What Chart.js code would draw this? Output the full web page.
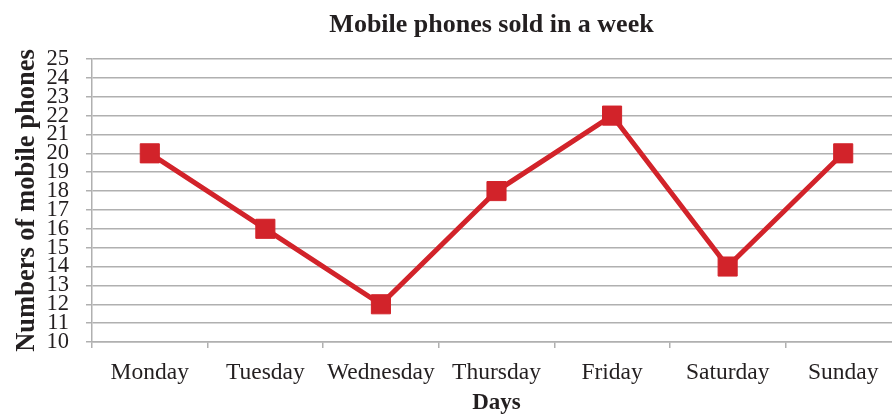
<!DOCTYPE html>
<html>
<head>
<meta charset="utf-8">
<script src="https://cdn.jsdelivr.net/npm/chart.js@4"></script>
<style>
  html, body { margin: 0; padding: 0; background: #fff; overflow: hidden; }
  #wrap { width: 901px; height: 415px; }
</style>
</head>
<body>
<div id="wrap"><canvas id="chart" width="901" height="415"></canvas></div>
<script>
const days = ["Monday", "Tuesday", "Wednesday", "Thursday", "Friday", "Saturday", "Sunday"]
const phonesSold = [20, 16, 12, 18, 22, 14, 20]
const yMin = 10
const yMax = 25

const serif = "'Liberation Serif', 'DejaVu Serif', serif"
const gridGray = "#b0b0b0"
const red = "#d2232a"
const ink = "#231f20"

// centre the title over the plot area, like the original
const titleOverPlot = {
  id: "titleOverPlot",
  afterLayout(chart) {
    const t = chart.titleBlock
    if (t) {
      t.left = chart.chartArea.left - 5
      t.right = chart.chartArea.right - 5
    }
  }
}

const ctx = document.getElementById("chart")

new Chart(ctx, {
  type: "line",
  data: {
    labels: days,
    datasets: [{
      label: "Mobile phones",
      data: phonesSold,
      borderColor: red,
      backgroundColor: red,
      borderWidth: 5,
      pointStyle: "rect",
      pointRadius: 13.5,
      pointHoverRadius: 13.5,
      pointBorderWidth: 1,
      tension: 0
    }]
  },
  options: {
    responsive: false,
    animation: false,
    devicePixelRatio: 1,
    layout: { padding: 0, autoPadding: false },
    plugins: {
      legend: { display: false },
      tooltip: { enabled: false },
      title: {
        display: true,
        text: "Mobile phones sold in a week",
        color: ink,
        font: { family: serif, size: 26, weight: "bold", lineHeight: 1 },
        padding: { top: 12, bottom: 21 }
      }
    },
    scales: {
      x: {
        offset: true,
        grid: {
          offset: true,
          drawOnChartArea: false,
          drawTicks: true,
          tickLength: 6,
          color: gridGray,
          lineWidth: 1.5
        },
        border: { color: gridGray, width: 1.5 },
        ticks: {
          color: ink,
          padding: 11,
          font: { family: serif, size: 23.5 },
          maxRotation: 0,
          autoSkip: false
        },
        title: {
          display: true,
          text: "Days",
          color: ink,
          font: { family: serif, size: 23, weight: "bold", lineHeight: 1 },
          padding: { top: 0, bottom: 0.5 }
        },
        afterFit: (scale) => {
          scale.height = 73
          scale.paddingLeft = 0
          scale.paddingRight = 0
        }
      },
      y: {
        min: yMin,
        max: yMax,
        grid: {
          color: gridGray,
          lineWidth: 1.5,
          tickLength: 6
        },
        border: { color: gridGray, width: 1.5 },
        ticks: {
          stepSize: 1,
          autoSkip: false,
          color: ink,
          padding: 17,
          font: { family: serif, size: 22.5 }
        },
        title: {
          display: true,
          text: "Numbers of mobile phones",
          color: ink,
          font: { family: serif, size: 26.5, weight: "bold", lineHeight: 1.2 },
          padding: { top: 11, bottom: 0 }
        },
        afterFit: (scale) => {
          scale.width = 92
          scale.paddingTop = 0
          scale.paddingBottom = 0
        }
      }
    }
  },
  plugins: [titleOverPlot]
})
</script>
</body>
</html>
